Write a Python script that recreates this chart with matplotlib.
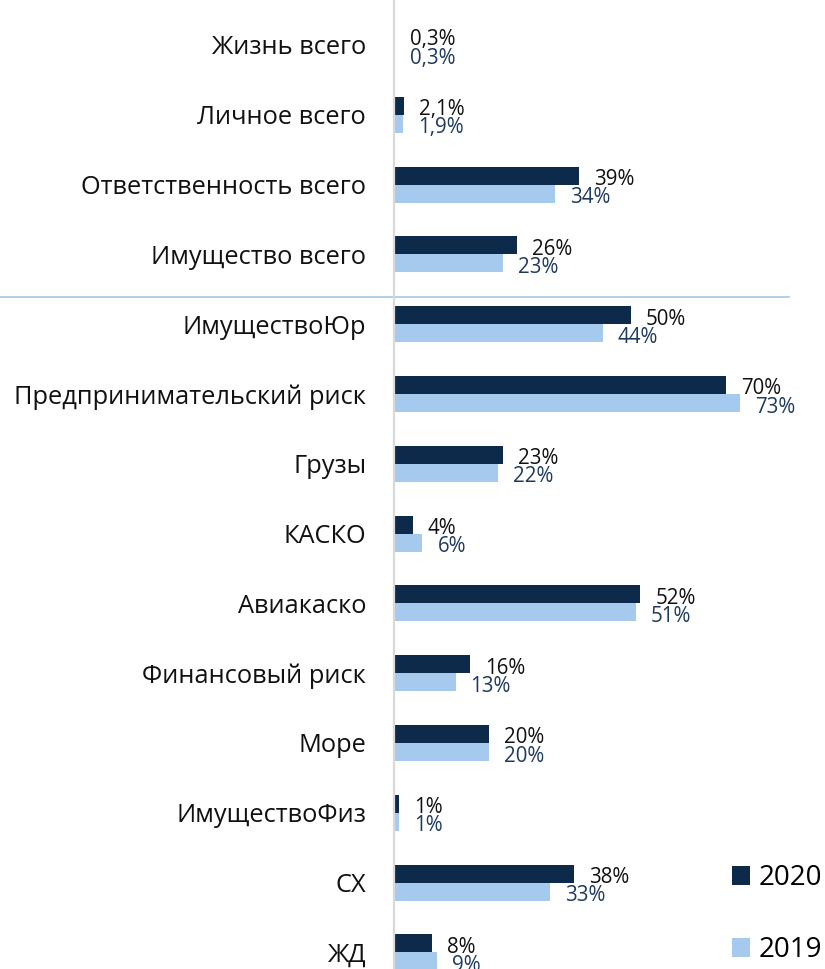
import matplotlib
matplotlib.use("Agg")
import matplotlib.pyplot as plt
import matplotlib.transforms as mtransforms
from matplotlib.patches import Patch
import numpy as np

plt.rcParams['font.family'] = ['Open Sans', 'DejaVu Sans']

# данные (доли, %)
categories = [
    'Жизнь всего', 'Личное всего', 'Ответственность всего', 'Имущество всего',
    'ИмуществоЮр', 'Предпринимательский риск', 'Грузы', 'КАСКО', 'Авиакаско',
    'Финансовый риск', 'Море', 'ИмуществоФиз', 'СХ', 'ЖД',
]
values_2020 = [0.3, 2.1, 39, 26, 50, 70, 23, 4, 52, 16, 20, 1, 38, 8]
values_2019 = [0.3, 1.9, 34, 23, 44, 73, 22, 6, 51, 13, 20, 1, 33, 9]
series_names = ['2020', '2019']

COLOR_2020 = '#0E2A4A'
COLOR_2019 = '#A6CAEE'
LABEL_2019 = '#1F3A60'


def fmt(v):
    return f"{v:g}".replace('.', ',') + '%'


W, H = 825, 969
fig = plt.figure(figsize=(W / 100, H / 100), dpi=100)
ax = fig.add_axes([394 / W, 0, (789 - 394) / W, 1])

y = np.arange(len(categories))
bh = 0.258

ax.barh(y - bh / 2, values_2020, height=bh, color=COLOR_2020, label=series_names[0])
ax.barh(y + bh / 2, values_2019, height=bh, color=COLOR_2019, label=series_names[1])

# подписи значений
for i in range(len(categories)):
    ax.annotate(fmt(values_2020[i]), (values_2020[i], y[i] - bh / 2),
                xytext=(15, -4), textcoords='offset pixels',
                va='center', ha='left', fontsize=14.8, color='#111111')
    ax.annotate(fmt(values_2019[i]), (values_2019[i], y[i] + bh / 2),
                xytext=(15, -4), textcoords='offset pixels',
                va='center', ha='left', fontsize=14.8, color=LABEL_2019)

ax.set_xlim(0, (789 - 394) / 4.74)
ax.set_ylim((H - 45) / 69.8, -45 / 69.8)

ax.set_yticks(y)
ax.set_yticklabels(categories, fontsize=18.3, color='#111111')
ax.tick_params(axis='y', length=0, pad=20)
ax.set_xticks([])

for side in ['top', 'right', 'bottom']:
    ax.spines[side].set_visible(False)
ax.spines['left'].set_color('#D9D9D9')
ax.spines['left'].set_linewidth(1.6)

# разделитель между итогами и видами
trans = mtransforms.blended_transform_factory(fig.transFigure, ax.transData)
ax.plot([0, 789 / W], [3.61, 3.61], transform=trans, color='#9DC3E6',
        lw=1.1, clip_on=False)

handles = [Patch(facecolor=COLOR_2020), Patch(facecolor=COLOR_2019)]
fig.legend(handles, series_names, loc='upper left',
           bbox_to_anchor=(732 / W, 1 - 864 / H), frameon=False,
           fontsize=20, handlelength=0.65, handleheight=0.65,
           handletextpad=0.3, labelspacing=1.6, borderpad=0, borderaxespad=0)

fig.savefig('out.png', dpi=100)
